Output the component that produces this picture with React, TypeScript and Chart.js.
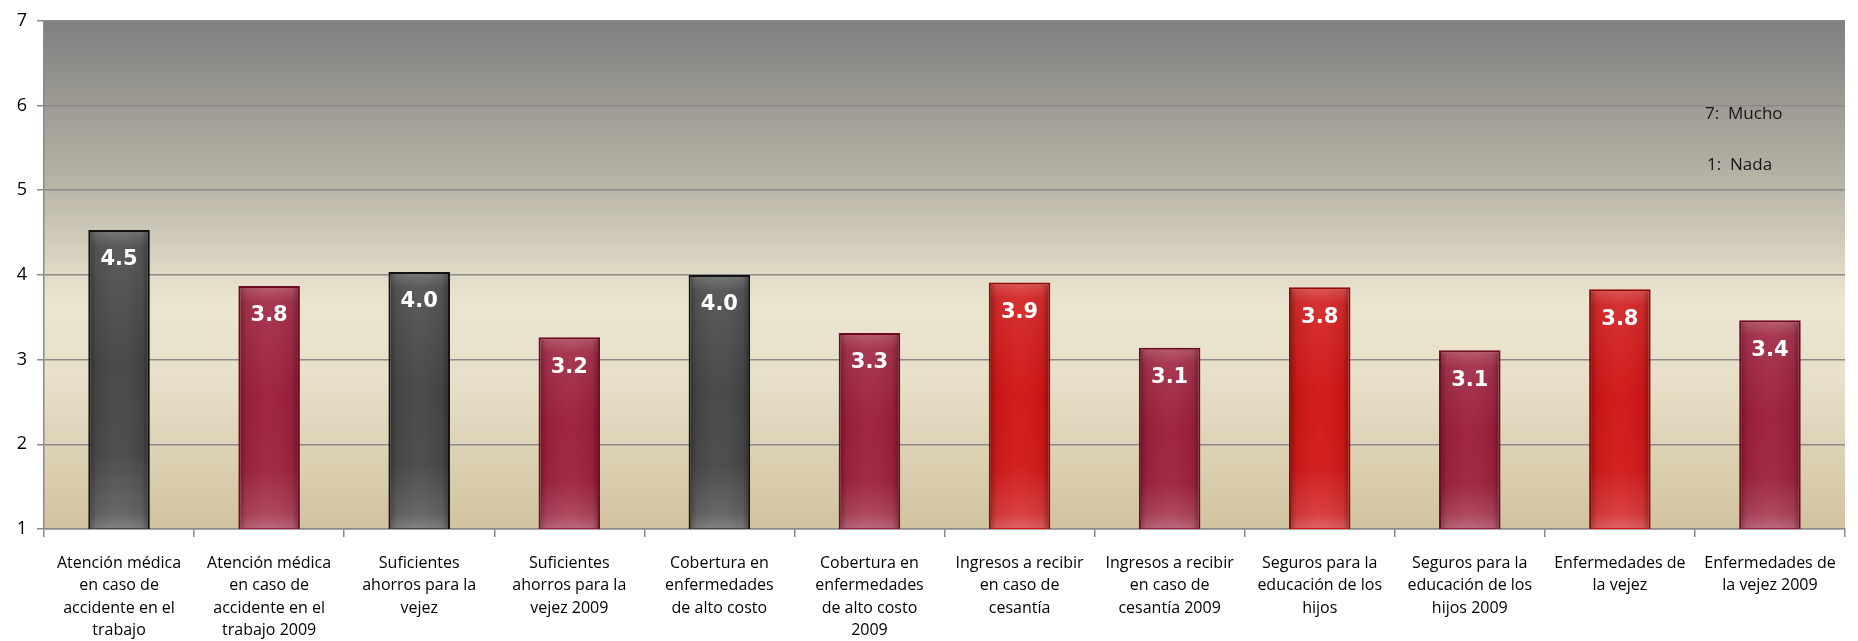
import React, { useEffect, useRef } from "react";
import { Chart, registerables } from "chart.js";

Chart.register(...registerables);

const categories: string[][] = [
  ["Atención médica", "en caso de", "accidente en el", "trabajo"],
  ["Atención médica", "en caso de", "accidente en el", "trabajo 2009"],
  ["Suficientes", "ahorros para la", "vejez"],
  ["Suficientes", "ahorros para la", "vejez 2009"],
  ["Cobertura en", "enfermedades", "de alto costo"],
  ["Cobertura en", "enfermedades", "de alto costo", "2009"],
  ["Ingresos a recibir", "en caso de", "cesantía"],
  ["Ingresos a recibir", "en caso de", "cesantía 2009"],
  ["Seguros para la", "educación de los", "hijos"],
  ["Seguros para la", "educación de los", "hijos 2009"],
  ["Enfermedades de", "la vejez"],
  ["Enfermedades de", "la vejez 2009"],
];

const values: number[] = [4.53, 3.87, 4.035, 3.265, 4.0, 3.315, 3.91, 3.14, 3.855, 3.11, 3.83, 3.465];
const valueLabels: string[] = ["4.5", "3.8", "4.0", "3.2", "4.0", "3.3", "3.9", "3.1", "3.8", "3.1", "3.8", "3.4"];
const barKinds: string[] = ["gray", "crimson", "gray", "crimson", "gray", "crimson", "red", "crimson", "red", "crimson", "red", "crimson"];
const yMin = 1;
const yMax = 7;
const notes: string[] = ["7:  Mucho", "1:  Nada"];

const palette: Record<string, { fill: string; border: string }> = {
  gray: { fill: "#464646", border: "#121212" },
  crimson: { fill: "#9d1f3b", border: "#6c0b21" },
  red: { fill: "#d11616", border: "#8c0a0a" },
};

const FONT = "'Open Sans', 'DejaVu Sans', sans-serif";

export default function App() {
  const ref = useRef<HTMLCanvasElement | null>(null);

  useEffect(() => {
    document.body.style.margin = "0";
    const canvas = ref.current;
    if (!canvas) return;

    const bgPlugin = {
      id: "bg",
      beforeDraw(chart: any) {
        const { ctx, chartArea: a } = chart;
        if (!a) return;
        const g = ctx.createLinearGradient(0, a.top, 0, a.bottom);
        g.addColorStop(0, "#7f7f7f");
        g.addColorStop(0.33, "#bab6a7");
        g.addColorStop(0.55, "#ebe5d0");
        g.addColorStop(0.7, "#e8e0c9");
        g.addColorStop(1, "#d2c39f");
        ctx.save();
        ctx.fillStyle = g;
        ctx.fillRect(a.left, a.top, a.right - a.left, a.bottom - a.top);
        ctx.restore();
      },
    };

    const barDeco = {
      id: "barDeco",
      afterDatasetsDraw(chart: any) {
        const { ctx } = chart;
        const a = chart.chartArea;
        const meta = chart.getDatasetMeta(0);
        meta.data.forEach((el: any, i: number) => {
          const w = el.width;
          const x0 = el.x - w / 2 + 2;
          const x1 = el.x + w / 2 - 2;
          const y0 = el.y + 2;
          const y1 = Math.min(el.base, a.bottom) - 1;
          const h = y1 - y0;
          if (h <= 0) return;
          ctx.save();
          ctx.beginPath();
          ctx.rect(x0, y0, x1 - x0, h);
          ctx.clip();
          const vg = ctx.createLinearGradient(0, y0, 0, y1);
          vg.addColorStop(0, "rgba(255,255,255,0.24)");
          vg.addColorStop(Math.min(0.2, 14 / h), "rgba(255,255,255,0.09)");
          vg.addColorStop(0.45, "rgba(255,255,255,0)");
          vg.addColorStop(0.75, "rgba(255,255,255,0.02)");
          vg.addColorStop(Math.max(0.8, 1 - 14 / h), "rgba(255,255,255,0.16)");
          vg.addColorStop(1, "rgba(255,255,255,0.3)");
          ctx.fillStyle = vg;
          ctx.fillRect(x0, y0, x1 - x0, h);
          const hg = ctx.createLinearGradient(x0, 0, x1, 0);
          hg.addColorStop(0, "rgba(0,0,0,0.28)");
          hg.addColorStop(0.1, "rgba(0,0,0,0.05)");
          hg.addColorStop(0.5, "rgba(255,255,255,0.03)");
          hg.addColorStop(0.9, "rgba(0,0,0,0.05)");
          hg.addColorStop(1, "rgba(0,0,0,0.3)");
          ctx.fillStyle = hg;
          ctx.fillRect(x0, y0, x1 - x0, h);
          ctx.restore();

          ctx.save();
          ctx.fillStyle = "#ffffff";
          ctx.font = "bold 21px 'DejaVu Sans', sans-serif";
          ctx.textAlign = "center";
          ctx.textBaseline = "middle";
          ctx.fillText(valueLabels[i], el.x, el.y + 30);
          ctx.restore();
        });

        const ys = chart.scales.y;
        ctx.save();
        ctx.fillStyle = "#161616";
        ctx.font = "17px " + FONT;
        ctx.textAlign = "left";
        ctx.textBaseline = "middle";
        ctx.fillText(notes[0], a.right - 140, ys.getPixelForValue(5.9));
        ctx.fillText(notes[1], a.right - 138, ys.getPixelForValue(5.3));
        ctx.restore();
      },
    };

    const chart = new Chart(canvas, {
      type: "bar",
      data: {
        labels: categories,
        datasets: [
          {
            data: values,
            backgroundColor: barKinds.map((k) => palette[k].fill),
            borderColor: barKinds.map((k) => palette[k].border),
            borderWidth: 2,
            borderSkipped: "bottom",
            barPercentage: 0.41,
            categoryPercentage: 1,
          },
        ],
      },
      options: {
        responsive: false,
        animation: false,
        layout: { padding: { top: 17, right: 13, left: 0, bottom: 0 } },
        plugins: {
          legend: { display: false },
          tooltip: { enabled: false },
        },
        scales: {
          x: {
            grid: {
              offset: true,
              drawOnChartArea: false,
              drawTicks: true,
              tickLength: 8,
              color: "#8a8a8a",
              lineWidth: 1.5,
            },
            border: { color: "#8a8a8a", width: 1.5 },
            ticks: {
              autoSkip: false,
              maxRotation: 0,
              minRotation: 0,
              padding: 15,
              color: "#000000",
              font: { family: FONT, size: 16, lineHeight: 1.4 },
            },
            afterFit(s: any) {
              s.height = 112;
            },
          },
          y: {
            min: yMin,
            max: yMax,
            grid: {
              color: "#8a8a8a",
              lineWidth: 1.5,
              drawTicks: true,
              tickLength: 7,
            },
            border: { color: "#8a8a8a", width: 1.5 },
            ticks: {
              stepSize: 1,
              padding: 10,
              color: "#000000",
              font: { family: FONT, size: 18 },
            },
            afterFit(s: any) {
              s.width = 44;
            },
          },
        },
      },
      plugins: [bgPlugin, barDeco],
    });

    return () => chart.destroy();
  }, []);

  return (
    <div style={{ width: 1858, height: 641 }}>
      <canvas ref={ref} width={1858} height={641} style={{ display: "block", width: 1858, height: 641 }} />
    </div>
  );
}
